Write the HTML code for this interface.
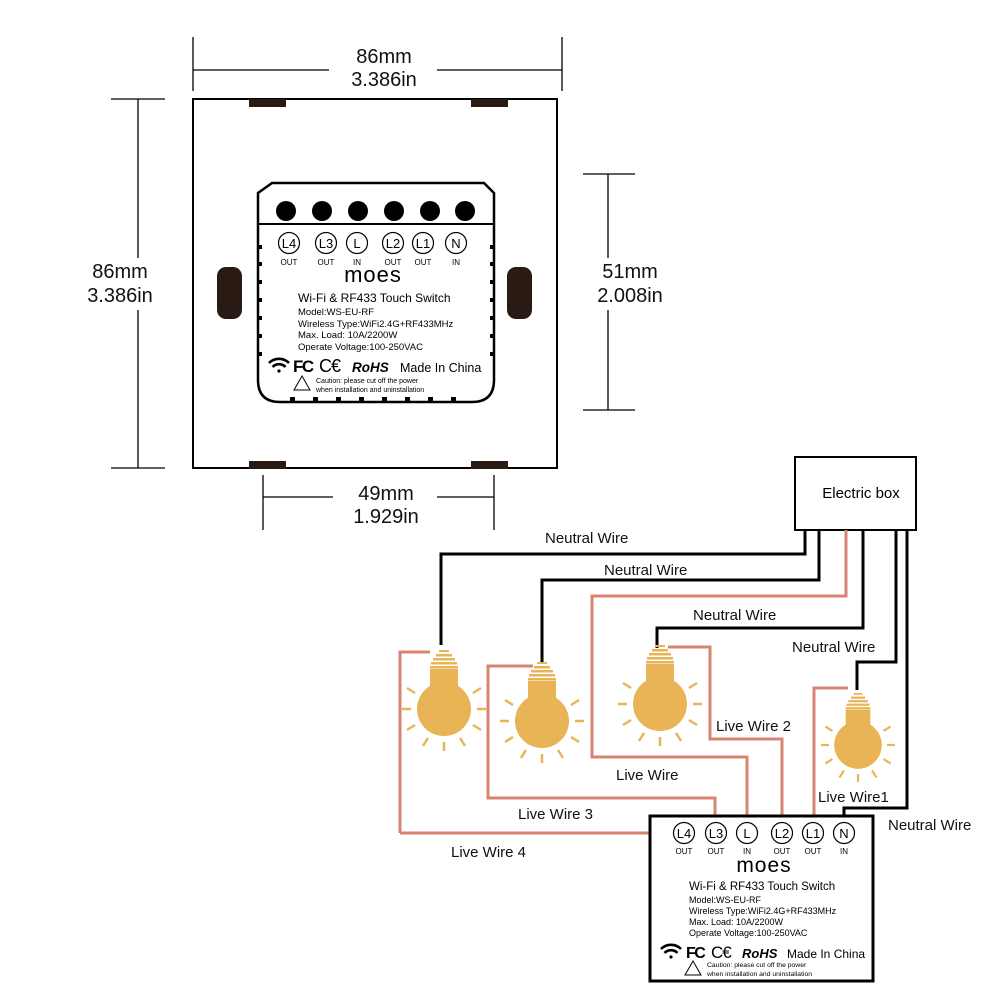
<!DOCTYPE html>
<html><head><meta charset="utf-8"><style>
html,body{margin:0;padding:0;background:#fff;}
svg{display:block;font-family:"Liberation Sans",sans-serif;}
</style></head><body>
<svg width="1001" height="1001" viewBox="0 0 1001 1001" xmlns="http://www.w3.org/2000/svg">
<defs>
<g id="bulb">
  <g fill="#e8b455">
    <rect x="-5" y="-59" width="10" height="2"/>
    <rect x="-8" y="-55" width="16" height="2.5"/>
    <rect x="-11" y="-51" width="22" height="2.5"/>
    <rect x="-13" y="-47" width="26" height="2.5"/>
    <rect x="-14" y="-43" width="28" height="2.5"/>
    <rect x="-14" y="-40" width="28" height="24"/>
    <circle cx="0" cy="0" r="27"/>
  </g>
  <g stroke="#e8b455" stroke-width="2.5">
    <line x1="-33" y1="0" x2="-42" y2="0"/><line x1="33" y1="0" x2="42" y2="0"/>
    <line x1="0" y1="33" x2="0" y2="42"/>
    <line x1="-29" y1="-16" x2="-37" y2="-21"/><line x1="29" y1="-16" x2="37" y2="-21"/>
    <line x1="-29" y1="16" x2="-37" y2="21"/><line x1="29" y1="16" x2="37" y2="21"/>
    <line x1="-16" y1="29" x2="-21" y2="37"/><line x1="16" y1="29" x2="21" y2="37"/>
  </g>
</g>
<g id="wifi" fill="none" stroke="#000" stroke-width="2.6">
  <path d="M-10,-8 A14,14 0 0 1 10,-8"/>
  <path d="M-6.5,-4 A9,9 0 0 1 6.5,-4"/>
  <circle cx="0" cy="0" r="1.6" fill="#000" stroke="none"/>
</g>
</defs>

<!-- dimensions -->
<g stroke="#000" stroke-width="1.3" fill="none">
  <line x1="193" y1="37" x2="193" y2="91"/><line x1="562" y1="37" x2="562" y2="91"/>
  <line x1="193" y1="70" x2="329" y2="70"/><line x1="437" y1="70" x2="562" y2="70"/>
  <line x1="111" y1="99" x2="165" y2="99"/><line x1="111" y1="468" x2="165" y2="468"/>
  <line x1="138" y1="99" x2="138" y2="258"/><line x1="138" y1="310" x2="138" y2="468"/>
  <line x1="583" y1="174" x2="635" y2="174"/><line x1="583" y1="410" x2="635" y2="410"/>
  <line x1="608" y1="174" x2="608" y2="258"/><line x1="608" y1="310" x2="608" y2="410"/>
  <line x1="263" y1="475" x2="263" y2="530"/><line x1="494" y1="475" x2="494" y2="530"/>
  <line x1="263" y1="497" x2="333" y2="497"/><line x1="437" y1="497" x2="494" y2="497"/>
</g>
<g font-size="20" text-anchor="middle" fill="#111">
  <text x="384" y="63">86mm</text><text x="384" y="86">3.386in</text>
  <text x="120" y="278">86mm</text><text x="120" y="302">3.386in</text>
  <text x="630" y="278">51mm</text><text x="630" y="302">2.008in</text>
  <text x="386" y="500">49mm</text><text x="386" y="523">1.929in</text>
</g>

<!-- plate -->
<rect x="193" y="99" width="364" height="369" fill="none" stroke="#000" stroke-width="2"/>
<g fill="#2a1a14">
  <rect x="249" y="99" width="37" height="8"/><rect x="471" y="99" width="37" height="8"/>
  <rect x="249" y="461" width="37" height="8"/><rect x="471" y="461" width="37" height="8"/>
  <rect x="217" y="267" width="25" height="52" rx="9"/><rect x="507" y="267" width="25" height="52" rx="9"/>
</g>

<!-- top module -->
<path d="M272,183 H484 L494,193 V380 Q494,402 472,402 H280 Q258,402 258,380 V193 Z" fill="#fff" stroke="#000" stroke-width="2.5"/>
<line x1="258" y1="224" x2="494" y2="224" stroke="#000" stroke-width="2"/>
<g fill="#000">
  <circle cx="286" cy="211" r="10"/><circle cx="322" cy="211" r="10"/><circle cx="358" cy="211" r="10"/>
  <circle cx="394" cy="211" r="10"/><circle cx="430" cy="211" r="10"/><circle cx="465" cy="211" r="10"/>
  <rect x="258" y="245" width="4" height="4"/><rect x="258" y="262" width="4" height="4"/><rect x="258" y="280" width="4" height="4"/>
  <rect x="258" y="298" width="4" height="4"/><rect x="258" y="316" width="4" height="4"/><rect x="258" y="334" width="4" height="4"/><rect x="258" y="352" width="4" height="4"/>
  <rect x="490" y="245" width="4" height="4"/><rect x="490" y="262" width="4" height="4"/><rect x="490" y="280" width="4" height="4"/>
  <rect x="490" y="298" width="4" height="4"/><rect x="490" y="316" width="4" height="4"/><rect x="490" y="334" width="4" height="4"/><rect x="490" y="352" width="4" height="4"/>
  <rect x="290" y="397" width="5" height="5"/><rect x="313" y="397" width="5" height="5"/><rect x="336" y="397" width="5" height="5"/>
  <rect x="359" y="397" width="5" height="5"/><rect x="382" y="397" width="5" height="5"/><rect x="405" y="397" width="5" height="5"/>
  <rect x="428" y="397" width="5" height="5"/><rect x="451" y="397" width="5" height="5"/>
</g>
<g fill="none" stroke="#000" stroke-width="1.2">
  <circle cx="289" cy="243" r="10.5"/><circle cx="326" cy="243" r="10.5"/><circle cx="357" cy="243" r="10.5"/>
  <circle cx="393" cy="243" r="10.5"/><circle cx="423" cy="243" r="10.5"/><circle cx="456" cy="243" r="10.5"/>
</g>
<g font-size="13" text-anchor="middle">
  <text x="289" y="248">L4</text><text x="326" y="248">L3</text><text x="357" y="248">L</text>
  <text x="393" y="248">L2</text><text x="423" y="248">L1</text><text x="456" y="248">N</text>
</g>
<g font-size="8" text-anchor="middle">
  <text x="289" y="265">OUT</text><text x="326" y="265">OUT</text><text x="357" y="265">IN</text>
  <text x="393" y="265">OUT</text><text x="423" y="265">OUT</text><text x="456" y="265">IN</text>
</g>
<text x="373" y="282" font-size="22" text-anchor="middle" letter-spacing="1">moes</text>
<text x="298" y="302" font-size="12">Wi-Fi &amp; RF433 Touch Switch</text>
<g font-size="9.5">
  <text x="298" y="315">Model:WS-EU-RF</text>
  <text x="298" y="327">Wireless Type:WiFi2.4G+RF433MHz</text>
  <text x="298" y="338">Max. Load: 10A/2200W</text>
  <text x="298" y="350">Operate Voltage:100-250VAC</text>
</g>
<use href="#wifi" transform="translate(279,371)"/>
<text x="293" y="372" font-size="17" font-weight="bold" letter-spacing="-1.5">FC</text>
<text x="319" y="372" font-size="18" letter-spacing="-1">C€</text>
<text x="352" y="372" font-size="13.5" font-weight="bold" font-style="italic">RoHS</text>
<text x="400" y="372" font-size="12.5">Made In China</text>
<path d="M302,376 L310,390 H294 Z" fill="none" stroke="#000" stroke-width="1"/>
<g font-size="7"><text x="316" y="383">Caution: please cut off the power</text><text x="316" y="392">when installation and uninstallation</text></g>

<!-- electric box -->
<rect x="795" y="457" width="121" height="73" fill="#fff" stroke="#000" stroke-width="2"/>
<text x="861" y="498" font-size="15" text-anchor="middle">Electric box</text>

<!-- wires -->
<g fill="none" stroke-width="3">
  <path d="M846,530 V596 H592 V757 H747 V822" stroke="#d98470"/>
  <path d="M400,833 V652 H430" stroke="#d98470"/>
  <path d="M672,833 H400" stroke="#d98470"/>
  <path d="M533,666 H488 V798 H715 V822" stroke="#d98470"/>
  <path d="M668,647 H710 V739 H782 V822" stroke="#d98470"/>
  <path d="M848,688 H814 V822" stroke="#d98470"/>
  <path d="M805,530 V554 H441 V645" stroke="#000"/>
  <path d="M819,530 V580 H542 V664" stroke="#000"/>
  <path d="M863,530 V628 H657 V648" stroke="#000"/>
  <path d="M896,530 V662 H857 V690" stroke="#000"/>
  <path d="M907,530 V808 H844 V822" stroke="#000"/>
</g>

<use href="#bulb" transform="translate(444,709)"/>
<use href="#bulb" transform="translate(542,721)"/>
<use href="#bulb" transform="translate(660,704)"/>
<use href="#bulb" transform="translate(858,745) scale(0.88)"/>

<g font-size="15" fill="#111">
  <text x="545" y="543">Neutral Wire</text>
  <text x="604" y="575">Neutral Wire</text>
  <text x="693" y="620">Neutral Wire</text>
  <text x="792" y="652">Neutral Wire</text>
  <text x="888" y="830">Neutral Wire</text>
  <text x="616" y="780">Live Wire</text>
  <text x="716" y="731">Live Wire 2</text>
  <text x="518" y="819">Live Wire 3</text>
  <text x="451" y="857">Live Wire 4</text>
  <text x="818" y="802">Live Wire1</text>
</g>

<!-- bottom module -->
<rect x="650" y="816" width="223" height="165" fill="#fff" stroke="#000" stroke-width="3"/>
<g fill="none" stroke="#000" stroke-width="1.2">
  <circle cx="684" cy="833" r="10.5"/><circle cx="716" cy="833" r="10.5"/><circle cx="747" cy="833" r="10.5"/>
  <circle cx="782" cy="833" r="10.5"/><circle cx="813" cy="833" r="10.5"/><circle cx="844" cy="833" r="10.5"/>
</g>
<g font-size="13" text-anchor="middle">
  <text x="684" y="838">L4</text><text x="716" y="838">L3</text><text x="747" y="838">L</text>
  <text x="782" y="838">L2</text><text x="813" y="838">L1</text><text x="844" y="838">N</text>
</g>
<g font-size="8" text-anchor="middle">
  <text x="684" y="854">OUT</text><text x="716" y="854">OUT</text><text x="747" y="854">IN</text>
  <text x="782" y="854">OUT</text><text x="813" y="854">OUT</text><text x="844" y="854">IN</text>
</g>
<text x="764" y="872" font-size="21" text-anchor="middle" letter-spacing="1">moes</text>
<text x="689" y="890" font-size="11.5">Wi-Fi &amp; RF433 Touch Switch</text>
<g font-size="9">
  <text x="689" y="903">Model:WS-EU-RF</text>
  <text x="689" y="914">Wireless Type:WiFi2.4G+RF433MHz</text>
  <text x="689" y="925">Max. Load: 10A/2200W</text>
  <text x="689" y="936">Operate Voltage:100-250VAC</text>
</g>
<use href="#wifi" transform="translate(671,957)"/>
<text x="686" y="958" font-size="16" font-weight="bold" letter-spacing="-1.5">FC</text>
<text x="711" y="958" font-size="17" letter-spacing="-1">C€</text>
<text x="742" y="958" font-size="13" font-weight="bold" font-style="italic">RoHS</text>
<text x="787" y="958" font-size="12">Made In China</text>
<path d="M693,961 L701,975 H685 Z" fill="none" stroke="#000" stroke-width="1"/>
<g font-size="6.8"><text x="707" y="967">Caution: please cut off the power</text><text x="707" y="976">when installation and uninstallation</text></g>
</svg>
</body></html>
